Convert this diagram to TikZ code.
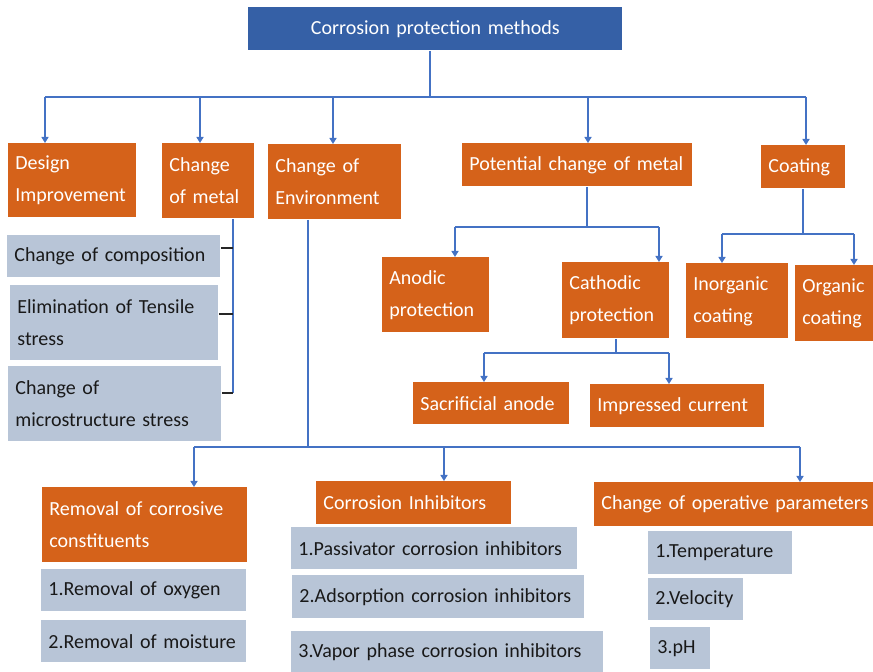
\documentclass[tikz,border=0pt]{standalone}
\usepackage{fontspec}
\setmainfont{Carlito}
\usetikzlibrary{arrows.meta}
\definecolor{rootblue}{HTML}{3560A6}
\definecolor{boxorange}{HTML}{D5621A}
\definecolor{boxgray}{HTML}{B8C5D7}
\definecolor{lineblue}{HTML}{4472C4}
\hyphenpenalty=10000
\exhyphenpenalty=10000

\begin{document}
\begin{tikzpicture}[
            x = 0.5pt, y = -0.5pt,
            every node/.style = {anchor = north west, inner xsep = 3.5pt, inner ysep = 0pt,
                font = \fontsize{10}{16}\selectfont, align = left},
            sz/.style 2 args = {minimum width = #1*0.5pt, minimum height = #2*0.5pt,
                text width = #1*0.5pt-7pt},
            main/.style = {fill = rootblue, text = white, align = center},
            orbox/.style = {fill = boxorange, text = white},
            grbox/.style = {fill = boxgray, text = black!90},
            conn/.style = {draw = lineblue, line width = 1.4pt},
            arr/.style = {conn, -{Triangle[width = 3.5pt, length = 3pt]}},
            tick/.style = {draw = black!85, line width = 0.8pt}
        ]
        \useasboundingbox (0,0) rectangle (873,672);

        \node[main, sz = {374}{43}] (root) at (248,7) {Corrosion protection methods};
        \node[orbox, sz = {128}{74}] (design) at (8,143) {Design\\Improvement};
        \node[orbox, sz = {92}{75}] (metal) at (162,143) {Change\\of metal};
        \node[orbox, sz = {133}{75}] (env) at (268,144) {Change of\\Environment};
        \node[orbox, sz = {230}{43}] (potential) at (462,143) {Potential change of metal};
        \node[orbox, sz = {84}{43}] (coating) at (761,145) {Coating};

        \node[grbox, sz = {213}{42}] (comp) at (7,235) {Change of composition};
        \node[grbox, sz = {208}{75}] (tensile) at (10,285) {Elimination of Tensile\\stress};
        \node[grbox, sz = {213}{75}] (micro) at (8,366) {Change of\\microstructure stress};

        \node[orbox, sz = {107}{75}] (anodic) at (382,257) {Anodic\\protection};
        \node[orbox, sz = {107}{76}] (cathodic) at (562,262) {Cathodic\\protection};
        \node[orbox, sz = {102}{75}] (inorganic) at (686,263) {Inorganic\\coating};
        \node[orbox, sz = {78}{76}] (organic) at (795,265) {Organic\\coating};
        \node[orbox, sz = {156}{42}] (sacrificial) at (413,382) {Sacrificial anode};
        \node[orbox, sz = {174}{43}] (impressed) at (590,384) {Impressed current};

        \node[orbox, sz = {205}{75}] (removal) at (42,487) {Removal of corrosive\\constituents};
        \node[orbox, sz = {195}{43}] (inhib) at (316,481) {Corrosion Inhibitors};
        \node[orbox, sz = {279}{44}] (operative) at (594,482) {\mbox{Change of operative parameters}};

        \node[grbox, sz = {205}{42}] (oxygen) at (41,569) {1.Removal of oxygen};
        \node[grbox, sz = {205}{42}] (moisture) at (41,620) {2.Removal of moisture};
        \node[grbox, sz = {286}{42}] (passiv) at (291,527) {1.Passivator corrosion inhibitors};
        \node[grbox, sz = {292}{43}] (adsorp) at (292,575) {2.Adsorption corrosion inhibitors};
        \node[grbox, sz = {312}{41}] (vapor) at (291,631) {3.Vapor phase corrosion inhibitors};
        \node[grbox, sz = {144}{43}] (temp) at (648,531) {1.Temperature};
        \node[grbox, sz = {95}{42}] (velocity) at (648,578) {2.Velocity};
        \node[grbox, sz = {60}{42}] (ph) at (650,627) {3.pH};

        % first level
        \coordinate (b1) at (430,97);
        \coordinate (b1a) at (45,97);
        \coordinate (b1b) at (200,97);
        \coordinate (b1c) at (333,97);
        \coordinate (b1d) at (588,97);
        \coordinate (b1e) at (806,97);
        \draw[conn] (root.south -| b1) -- (b1);
        \draw[conn] (b1a) -- (b1e);
        \draw[arr] (b1a) -- (b1a |- design.north);
        \draw[arr] (b1b) -- (b1b |- metal.north);
        \draw[arr] (b1c) -- (b1c |- env.north);
        \draw[arr] (b1d) -- (b1d |- potential.north);
        \draw[arr] (b1e) -- (b1e |- coating.north);

        % change of metal
        \coordinate (m1) at (233,393);
        \coordinate (t1) at (233,248);
        \coordinate (t2) at (233,314);
        \draw[conn] (metal.south -| m1) -- (m1);
        \draw[tick] (t1 -| comp.east) -- (t1);
        \draw[tick] (t2 -| tensile.east) -- (t2);
        \draw[tick] (m1 -| micro.east) -- (m1);

        % potential change
        \coordinate (p1) at (587,227);
        \coordinate (p1a) at (455,227);
        \coordinate (p1b) at (659,227);
        \draw[conn] (potential.south -| p1) -- (p1);
        \draw[conn] (p1a) -- (p1b);
        \draw[arr] (p1a) -- (p1a |- anodic.north);
        \draw[arr] (p1b) -- (p1b |- cathodic.north);

        % coating
        \coordinate (c1) at (803,234);
        \coordinate (c1a) at (722,234);
        \coordinate (c1b) at (854,234);
        \draw[conn] (coating.south -| c1) -- (c1);
        \draw[conn] (c1a) -- (c1b);
        \draw[arr] (c1a) -- (c1a |- inorganic.north);
        \draw[arr] (c1b) -- (c1b |- organic.north);

        % cathodic
        \coordinate (k1) at (616,353);
        \coordinate (k1a) at (484,353);
        \coordinate (k1b) at (669,353);
        \draw[conn] (cathodic.south -| k1) -- (k1);
        \draw[conn] (k1a) -- (k1b);
        \draw[arr] (k1a) -- (k1a |- sacrificial.north);
        \draw[arr] (k1b) -- (k1b |- impressed.north);

        % change of environment
        \coordinate (e1) at (308,447);
        \coordinate (e1a) at (194,447);
        \coordinate (e1b) at (444,447);
        \coordinate (e1c) at (800,447);
        \draw[conn] (env.south -| e1) -- (e1);
        \draw[conn] (e1a) -- (e1c);
        \draw[arr] (e1a) -- (e1a |- removal.north);
        \draw[arr] (e1b) -- (e1b |- inhib.north);
        \draw[arr] (e1c) -- (e1c |- operative.north);
    \end{tikzpicture}
\end{document}
